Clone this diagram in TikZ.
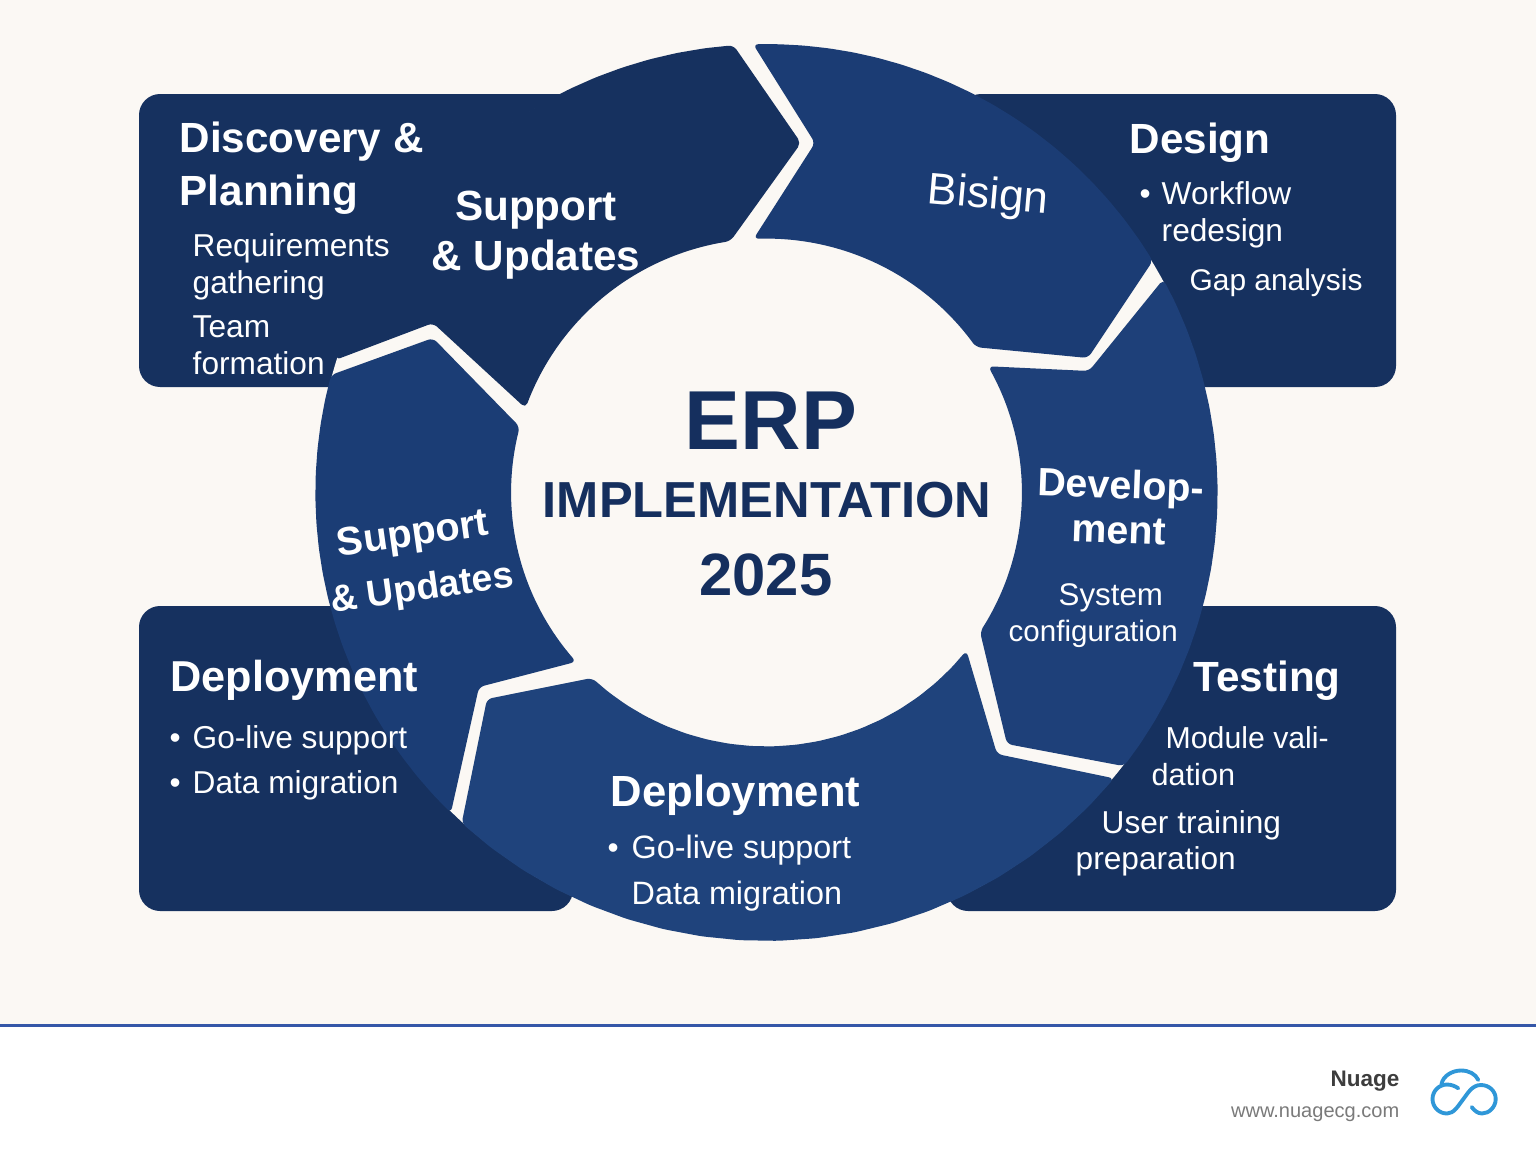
\documentclass[tikz,border=0pt]{standalone}
\usepackage{fontspec}
\setmainfont{Liberation Sans}
\definecolor{creambg}{HTML}{FBF8F4}
\definecolor{boxnavy}{HTML}{16315F}
\definecolor{segdesign}{HTML}{1B3C74}
\definecolor{segdevelop}{HTML}{1E4079}
\definecolor{segdeploy}{HTML}{1F437C}
\definecolor{segsupport}{HTML}{1B3D75}
\definecolor{centernavy}{HTML}{152F5E}
\definecolor{footline}{HTML}{3557A8}
\definecolor{logoblue}{HTML}{2F97D8}
\tikzset{
    boxfill/.style={fill=boxnavy, rounded corners=6pt},
    headtext/.style={text=white, inner sep=0pt, anchor=base west, align=left, font=\fontsize{12}{14.8}\selectfont\bfseries},
    seghead/.style={text=white, inner sep=0pt, align=center, font=\fontsize{12}{14.2}\selectfont\bfseries},
    bodytext/.style={text=white, inner sep=0pt, anchor=base west, align=left, font=\fontsize{9}{10.5}\selectfont},
    centertext/.style={text=centernavy, inner sep=0pt, font=\bfseries},
}
% one piece of the ring, from angle #2 to angle #3
\newcommand{\ringarc}[3]{-- plot[domain=#2:#3,samples=20] ({766.5+1.006*#1*cos(\x)},{492.5+#1*sin(\x)})}
\begin{document}
\begin{tikzpicture}[x=0.01cm,y=-0.01cm]
\useasboundingbox (0,0) rectangle (1536,1154);
\fill[creambg] (0,0) rectangle (1536,1026);
\fill[white] (0,1026) rectangle (1536,1154);
\fill[footline] (0,1024) rectangle (1536,1027);

% boxes behind the ring
\fill[boxfill] (139,94) rectangle (640,387);
\fill[boxfill] (960,94) rectangle (1396,387);
\fill[boxfill] (139,606) rectangle (573,911);
\fill[boxfill] (947,606) rectangle (1396,911);
\fill[creambg] (766.5,492.5) circle [x radius=450, y radius=447.5];

% ring
\fill[boxnavy, rounded corners=1.5pt] (433,323) \ringarc{448.5}{197.2}{265.8} -- (801,143) \ringarc{254}{261.9}{199.4} -- cycle;
\fill[segdesign, rounded corners=1.5pt] (815,143) \ringarc{448.5}{268.3}{328.9} -- (1088,358) \ringarc{254}{325.1}{267.1} -- cycle;
\fill[segdevelop, rounded corners=1.5pt] (1089,371) \ringarc{448.5}{-28.4}{37.6} -- (1007,744) \ringarc{254}{33.3}{-29.8} -- cycle;
\fill[segdeploy, rounded corners=1.5pt] (487,699) \ringarc{448.5}{132.5}{39.6} -- (997,754) \ringarc{254}{38.5}{133.1} -- cycle;
\fill[segsupport, rounded corners=1.5pt] (433,338) \ringarc{448.5}{195.2}{134.4} -- (479,687) \ringarc{254}{138.2}{195} -- cycle;

% centre
\node[centertext, font=\fontsize{23.8}{26}\selectfont\bfseries] (erp) at (771,421) {ERP};
\node[centertext, font=\fontsize{14.4}{16}\selectfont\bfseries] (implementation) at (767,500) {IMPLEMENTATION};
\node[centertext, font=\fontsize{17}{19}\selectfont\bfseries] (year) at (766,575) {2025};

% top left
\node[headtext] (discovery) at (179,205) {Discovery \&\\Planning};
\node[bodytext] (requirements) at (192,293) {Requirements\\gathering};
\node[bodytext] (team) at (192,374) {Team\\formation};
\node[seghead] (supporttop) at (536,235) {Support\hspace{4pt}\\\& Updates};

% top right
\node[seghead, font=\fontsize{12.6}{14}\selectfont, rotate=-5] (bisign) at (988,197) {Bisign};
\node[headtext] (design) at (1129,153) {Design};
\node[bodytext] (bulletworkflow) at (1139,204) {•};
\node[bodytext] (workflow) at (1161,241) {Workflow\\redesign};
\node[bodytext, font=\fontsize{8.5}{10.5}\selectfont] (gap) at (1189,290) {Gap analysis};

% right
\node[seghead, font=\fontsize{11.2}{12.8}\selectfont\bfseries, rotate=-2] (develop) at (1120,507) {Develop-\\ment};
\node[bodytext, font=\fontsize{8.9}{10.5}\selectfont] (system) at (1058,605) {System};
\node[bodytext, font=\fontsize{8.4}{10.5}\selectfont] (configuration) at (1008,641) {configuration};
\node[headtext] (testing) at (1193,691) {Testing};
\node[bodytext, font=\fontsize{8.6}{10.5}\selectfont] (module) at (1165,748) {Module vali-};
\node[bodytext, font=\fontsize{8.7}{10.5}\selectfont] (dation) at (1151,785) {dation};
\node[bodytext] (user) at (1101,833) {User training};
\node[bodytext] (preparation) at (1075,869) {preparation};

% bottom left
\node[headtext, font=\fontsize{12.3}{14.8}\selectfont\bfseries] (deployleft) at (170,691) {Deployment};
\node[bodytext] (bulletgoleft) at (169,748) {•};
\node[bodytext] (goleft) at (192,748) {Go-live support};
\node[bodytext] (bulletdataleft) at (169,793) {•};
\node[bodytext] (dataleft) at (192,793) {Data migration};

% bottom
\node[headtext, font=\fontsize{12.4}{14.8}\selectfont\bfseries] (deploybottom) at (610,806) {Deployment};
\node[bodytext] (bulletgobottom) at (607,858) {•};
\node[bodytext, font=\fontsize{9.2}{10.5}\selectfont] (gobottom) at (631,858) {Go-live support};
\node[bodytext, font=\fontsize{9.2}{10.5}\selectfont] (databottom) at (631,904) {Data migration};

% left
\node[seghead, font=\fontsize{11.3}{13}\selectfont\bfseries, rotate=8] (supportleft) at (413,536) {Support};
\node[seghead, font=\fontsize{10.6}{13}\selectfont\bfseries, rotate=8] (updatesleft) at (422,590) {\& Updates};

% footer
\node[inner sep=0pt, anchor=base east, text=black!76, font=\fontsize{6.4}{8}\selectfont\bfseries] (nuage) at (1400,1086) {Nuage};
\node[inner sep=0pt, anchor=base east, text=black!52, font=\fontsize{5.7}{7}\selectfont] (website) at (1400,1117) {www.nuagecg.com};
\draw[logoblue, line width=1.1pt, line cap=round] (1458.3,1088.3) .. controls (1455,1086) and (1451,1084.5) .. (1447,1084.5) .. controls (1439,1084.5) and (1432.5,1091) .. (1432.5,1099) .. controls (1432.5,1107) and (1439,1113.5) .. (1447,1113.5) .. controls (1454,1113.5) and (1458,1106) .. (1463,1099.5) .. controls (1468,1093) and (1472,1085) .. (1481,1085) .. controls (1489,1085) and (1495.7,1091) .. (1495.7,1099) .. controls (1495.7,1107) and (1489,1113.5) .. (1482,1113.5) .. controls (1478,1113.5) and (1474,1110.5) .. (1471.7,1107);
\draw[logoblue, line width=1.1pt, line cap=round] (1441.5,1084) .. controls (1443,1076) and (1452,1070.5) .. (1461,1070.5) .. controls (1469,1070.5) and (1475.5,1074) .. (1478.3,1080);
\end{tikzpicture}
\end{document}
